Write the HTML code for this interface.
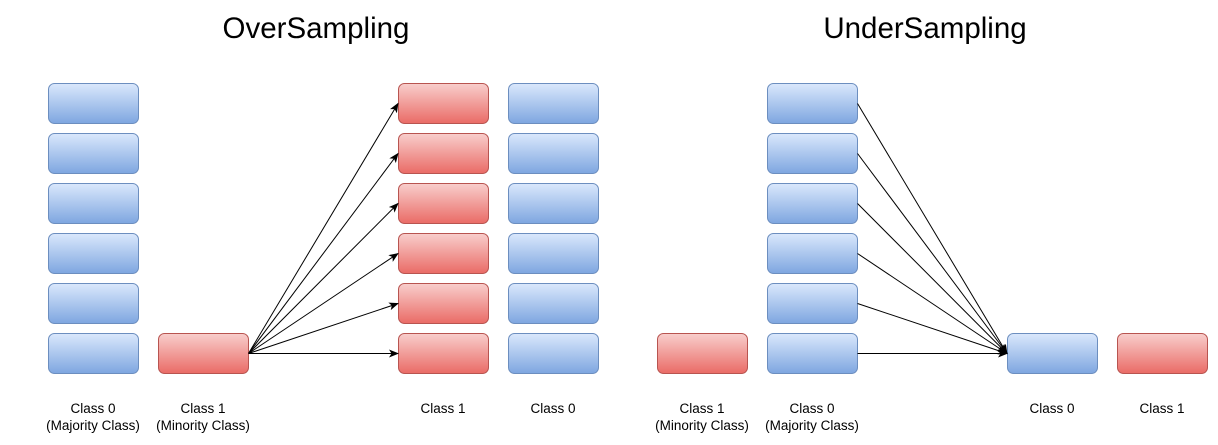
<!DOCTYPE html>
<html><head><meta charset="utf-8"><style>
html,body{margin:0;padding:0;background:#fff;}
svg{display:block;}
text{font-family:"Liberation Sans",Arial,sans-serif;fill:#000;}
</style></head><body>
<svg width="1218" height="445" viewBox="0 0 1218 445" xmlns="http://www.w3.org/2000/svg">
<defs>
<linearGradient id="b" x1="0" y1="0" x2="0" y2="1"><stop offset="0" stop-color="#dae8fc"/><stop offset="1" stop-color="#7ea6e0"/></linearGradient>
<linearGradient id="r" x1="0" y1="0" x2="0" y2="1"><stop offset="0" stop-color="#f8cecc"/><stop offset="1" stop-color="#ea6b66"/></linearGradient>
<marker id="a" markerWidth="10" markerHeight="8" refX="9" refY="4" orient="auto" markerUnits="userSpaceOnUse"><path d="M0,0 L10,4 L0,8 L2.5,4 z" fill="#000"/></marker>
</defs>
<text x="316" y="38" font-size="29.5" text-anchor="middle">OverSampling</text>
<text x="925" y="38" font-size="29.5" text-anchor="middle">UnderSampling</text>
<g stroke="#6c8ebf" fill="url(#b)">
<rect x="48.5" y="83.5" width="90" height="40" rx="6"/>
<rect x="48.5" y="133.5" width="90" height="40" rx="6"/>
<rect x="48.5" y="183.5" width="90" height="40" rx="6"/>
<rect x="48.5" y="233.5" width="90" height="40" rx="6"/>
<rect x="48.5" y="283.5" width="90" height="40" rx="6"/>
<rect x="48.5" y="333.5" width="90" height="40" rx="6"/>
<rect x="508.5" y="83.5" width="90" height="40" rx="6"/>
<rect x="508.5" y="133.5" width="90" height="40" rx="6"/>
<rect x="508.5" y="183.5" width="90" height="40" rx="6"/>
<rect x="508.5" y="233.5" width="90" height="40" rx="6"/>
<rect x="508.5" y="283.5" width="90" height="40" rx="6"/>
<rect x="508.5" y="333.5" width="90" height="40" rx="6"/>
<rect x="767.5" y="83.5" width="90" height="40" rx="6"/>
<rect x="767.5" y="133.5" width="90" height="40" rx="6"/>
<rect x="767.5" y="183.5" width="90" height="40" rx="6"/>
<rect x="767.5" y="233.5" width="90" height="40" rx="6"/>
<rect x="767.5" y="283.5" width="90" height="40" rx="6"/>
<rect x="767.5" y="333.5" width="90" height="40" rx="6"/>
<rect x="1007.5" y="333.5" width="90" height="40" rx="6"/>
</g>
<g stroke="#b85450" fill="url(#r)">
<rect x="158.5" y="333.5" width="90" height="40" rx="6"/>
<rect x="398.5" y="83.5" width="90" height="40" rx="6"/>
<rect x="398.5" y="133.5" width="90" height="40" rx="6"/>
<rect x="398.5" y="183.5" width="90" height="40" rx="6"/>
<rect x="398.5" y="233.5" width="90" height="40" rx="6"/>
<rect x="398.5" y="283.5" width="90" height="40" rx="6"/>
<rect x="398.5" y="333.5" width="90" height="40" rx="6"/>
<rect x="657.5" y="333.5" width="90" height="40" rx="6"/>
<rect x="1117.5" y="333.5" width="90" height="40" rx="6"/>
</g>
<g stroke="#000" stroke-width="1" marker-end="url(#a)">
<line x1="248.5" y1="353.5" x2="398" y2="103.5"/>
<line x1="248.5" y1="353.5" x2="398" y2="153.5"/>
<line x1="248.5" y1="353.5" x2="398" y2="203.5"/>
<line x1="248.5" y1="353.5" x2="398" y2="253.5"/>
<line x1="248.5" y1="353.5" x2="398" y2="303.5"/>
<line x1="248.5" y1="353.5" x2="398" y2="353.5"/>
<line x1="857.5" y1="103.5" x2="1007" y2="353.5"/>
<line x1="857.5" y1="153.5" x2="1007" y2="353.5"/>
<line x1="857.5" y1="203.5" x2="1007" y2="353.5"/>
<line x1="857.5" y1="253.5" x2="1007" y2="353.5"/>
<line x1="857.5" y1="303.5" x2="1007" y2="353.5"/>
<line x1="857.5" y1="353.5" x2="1007" y2="353.5"/>
</g>
<g font-size="13.5" text-anchor="middle">
<text x="93" y="413">Class 0</text><text x="93" y="430">(Majority Class)</text>
<text x="203" y="413">Class 1</text><text x="203" y="430">(Minority Class)</text>
<text x="443" y="413">Class 1</text>
<text x="553" y="413">Class 0</text>
<text x="702" y="413">Class 1</text><text x="702" y="430">(Minority Class)</text>
<text x="812" y="413">Class 0</text><text x="812" y="430">(Majority Class)</text>
<text x="1052" y="413">Class 0</text>
<text x="1162" y="413">Class 1</text>
</g>
</svg>
</body></html>
